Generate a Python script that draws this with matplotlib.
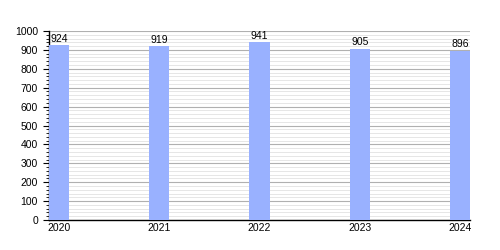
import matplotlib
matplotlib.use("Agg")
import matplotlib.pyplot as plt
from matplotlib.ticker import MultipleLocator

years = ["2020", "2021", "2022", "2023", "2024"]
values = [924, 919, 941, 905, 896]

plt.rcParams["font.family"] = ["Liberation Sans", "DejaVu Sans"]

fig = plt.figure(figsize=(5, 2.5), dpi=100)
ax = fig.add_axes([0.098, 0.12, 0.842, 0.756])

x = range(len(years))
ax.bar(x, values, width=0.2, color="#99b1ff", zorder=3)
for xi, v in zip(x, values):
    ax.text(xi, v + 8, str(v), ha="center", va="bottom", fontsize=7.5, zorder=4)

ax.set_xlim(-0.1, len(years) - 0.9)
ax.set_ylim(0, 1000)
ax.set_xticks(list(x))
ax.set_xticklabels(years)
ax.yaxis.set_major_locator(MultipleLocator(100))
ax.yaxis.set_minor_locator(MultipleLocator(20))

ax.grid(axis="y", which="major", color="#b0b0b0", linewidth=0.8, zorder=0)
ax.grid(axis="y", which="minor", color="#e2e2e2", linewidth=0.6, zorder=0)

ax.spines["top"].set_visible(False)
ax.spines["right"].set_visible(False)
ax.spines["left"].set_linewidth(1.0)
ax.spines["bottom"].set_linewidth(1.0)
ax.tick_params(axis="y", which="major", length=4, width=0.8, labelsize=7.5, pad=4)
ax.tick_params(axis="y", which="minor", length=2.5, width=0.6)
ax.tick_params(axis="x", length=0, labelsize=7.5, pad=2)

fig.savefig("out.png", dpi=100)
